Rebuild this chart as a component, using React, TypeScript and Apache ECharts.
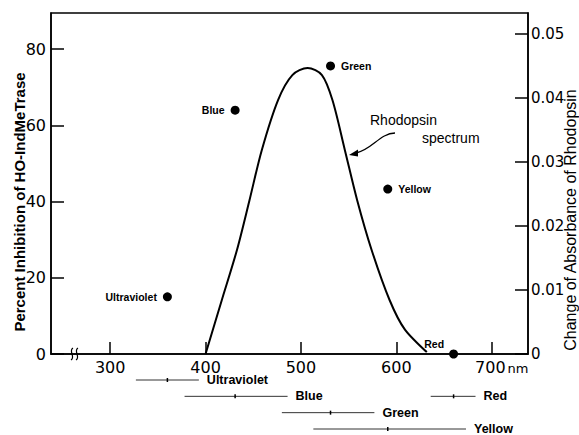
import React, { useEffect, useRef } from "react";
import * as echarts from "echarts";

// ---- data ----
const xTicks = [300, 400, 500, 600, 700];
const leftTicks = [0, 20, 40, 60, 80];
const rightTicks = [0, 0.01, 0.02, 0.03, 0.04, 0.05];

const spectrumNm = [400, 417, 433, 446, 459, 476, 491, 507, 522, 533, 546, 559, 574, 593, 609, 632];
const spectrumAbs = [0, 0.0084, 0.0163, 0.024, 0.0319, 0.0397, 0.0436, 0.0447, 0.0436, 0.0397, 0.0319, 0.024, 0.0163, 0.0084, 0.0038, 0.0003];

const lightNames = ["Ultraviolet", "Blue", "Green", "Yellow", "Red"];
const lightNm = [360, 431, 531, 591, 660];
const inhibition = [15, 64, 75.6, 43.3, 0];

const bandNames = ["Ultraviolet", "Blue", "Red", "Green", "Yellow"];
const bandStart = [327, 378, 636, 480, 513];
const bandEnd = [393, 486, 683, 577, 673];
const bandCenter = [360, 431, 660, 531, 591];
const bandRow = [0, 1, 1, 2, 3];

// ---- styles ----
const labelPos: Record<string, any> = {
  Ultraviolet: { position: "left", distance: 6 },
  Blue: { position: "left", distance: 6 },
  Green: { position: "right", distance: 6 },
  Yellow: { position: "right", distance: 6 },
  Red: { position: "left", distance: 5, offset: [0, -10] },
};
const tickFont = "DejaVu Sans";
const textFont = "Liberation Sans";

export default function App() {
  const ref = useRef<HTMLDivElement>(null);
  useEffect(() => {
    if (!ref.current) return;
    const chart = echarts.init(ref.current, undefined, { renderer: "svg" });
    const xMin = 238, xMax = 738;
    const option: any = {
      animation: false,
      backgroundColor: "#fff",
      grid: [
        { left: 51, right: 51, top: 13, bottom: 81, show: true, borderColor: "#000", borderWidth: 1.5 },
        { left: 51, right: 51, top: 380, height: 49 },
      ],
      xAxis: [
        {
          type: "value", gridIndex: 0, min: xMin, max: xMax,
          axisLine: { show: true, lineStyle: { color: "#000", width: 1.5 } },
          axisTick: { show: true, inside: true, length: 12, customValues: xTicks, lineStyle: { color: "#000", width: 1.5 } },
          axisLabel: {
            customValues: xTicks, margin: 5, color: "#000", fontFamily: tickFont, fontSize: 16,
            formatter: (v: number) => (v === 700 ? "{p|}{a|700}{b|nm}" : String(v)),
            rich: {
              p: { width: 20 },
              a: { fontFamily: tickFont, fontSize: 16, color: "#000" },
              b: { fontFamily: tickFont, fontSize: 13, color: "#000", padding: [3, 0, 0, 2] },
            },
          },
          splitLine: { show: false },
        },
        { type: "value", gridIndex: 1, min: xMin, max: xMax, show: false },
      ],
      yAxis: [
        {
          type: "value", gridIndex: 0, min: 0, max: 89.5, position: "left",
          axisLine: { show: true, lineStyle: { color: "#000", width: 1.5 } },
          axisTick: { show: true, inside: true, length: 13, customValues: leftTicks, lineStyle: { color: "#000", width: 1.5 } },
          axisLabel: { customValues: leftTicks, margin: 5, color: "#000", fontFamily: tickFont, fontSize: 16 },
          splitLine: { show: false },
        },
        {
          type: "value", gridIndex: 0, min: 0, max: 0.0533, position: "right",
          axisLine: { show: true, lineStyle: { color: "#000", width: 1.5 } },
          axisTick: { show: true, inside: true, length: 13, customValues: rightTicks, lineStyle: { color: "#000", width: 1.5 } },
          axisLabel: {
            customValues: rightTicks, margin: 3, color: "#000", fontFamily: tickFont, fontSize: 15,
            formatter: (v: number) => (v === 0 ? "0" : v.toFixed(2)),
          },
          splitLine: { show: false },
        },
        { type: "value", gridIndex: 1, min: 0, max: 3, inverse: true, show: false },
      ],
      series: [
        {
          type: "line", xAxisIndex: 0, yAxisIndex: 1,
          data: spectrumNm.map((x, i) => [x, spectrumAbs[i]]),
          smooth: 0.3, showSymbol: false,
          lineStyle: { color: "#000", width: 2 },
        },
        {
          type: "scatter", xAxisIndex: 0, yAxisIndex: 0, symbolSize: 9,
          itemStyle: { color: "#000", opacity: 1 },
          data: lightNames.map((n, i) => ({
            name: n, value: [lightNm[i], inhibition[i]],
            label: { show: true, formatter: n, color: "#000", fontFamily: textFont, fontWeight: "bold", fontSize: 10.5, ...labelPos[n] },
          })),
          clip: false,
          z: 5,
        },
        {
          type: "custom", xAxisIndex: 1, yAxisIndex: 2, clip: false,
          encode: { x: [0, 1, 2], y: 3 },
          data: bandStart.map((s, i) => [s, bandEnd[i], bandCenter[i], bandRow[i]]),
          renderItem: (params: any, api: any) => {
            const s = api.coord([api.value(0), api.value(3)]);
            const e = api.coord([api.value(1), api.value(3)]);
            const c = api.coord([api.value(2), api.value(3)]);
            const name = bandNames[params.dataIndex];
            return {
              type: "group",
              children: [
                { type: "line", shape: { x1: s[0], y1: s[1], x2: e[0], y2: e[1] }, style: { stroke: "#333", lineWidth: 1 } },
                { type: "line", shape: { x1: c[0], y1: c[1] - 2, x2: c[0], y2: c[1] + 2 }, style: { stroke: "#000", lineWidth: 1.5 } },
                {
                  type: "text", x: e[0] + 8, y: e[1],
                  style: { text: name, fill: "#000", font: `bold 12.5px "${textFont}"`, align: "left", verticalAlign: "middle" },
                },
              ],
            };
          },
        },
      ],
      graphic: [
        {
          type: "text", x: 19, y: 202, rotation: Math.PI / 2,
          style: { text: "Percent Inhibition of HO-IndMeTrase", font: `bold 15px "${textFont}"`, fill: "#000", align: "center", verticalAlign: "middle" },
        },
        {
          type: "text", x: 570, y: 220, rotation: Math.PI / 2,
          style: { text: "Change of Absorbance of Rhodopsin", font: `16px "${textFont}"`, fill: "#000", align: "center", verticalAlign: "middle" },
        },
        {
          type: "text", x: 370, y: 120,
          style: { text: "Rhodopsin", font: `14px "${textFont}"`, fill: "#000", align: "left", verticalAlign: "middle" },
        },
        {
          type: "text", x: 422, y: 138,
          style: { text: "spectrum", font: `14px "${textFont}"`, fill: "#000", align: "left", verticalAlign: "middle" },
        },
        {
          type: "bezierCurve",
          shape: { x1: 395, y1: 133, cpx1: 380, cpy1: 133, cpx2: 372, cpy2: 150, x2: 356, y2: 153 },
          style: { stroke: "#000", lineWidth: 1.3, fill: "none" },
        },
        {
          type: "polygon",
          shape: { points: [[349, 155], [358, 149.5], [358, 156.5]] },
          style: { fill: "#000" },
        },
        {
          type: "bezierCurve",
          shape: { x1: 71, y1: 360, cpx1: 76, cpy1: 357, cpx2: 68, cpy2: 351, x2: 73, y2: 348 },
          style: { stroke: "#000", lineWidth: 1.2, fill: "none" },
        },
        {
          type: "bezierCurve",
          shape: { x1: 76, y1: 360, cpx1: 81, cpy1: 357, cpx2: 73, cpy2: 351, x2: 78, y2: 348 },
          style: { stroke: "#000", lineWidth: 1.2, fill: "none" },
        },
      ],
    };
    chart.setOption(option);
    return () => chart.dispose();
  }, []);
  return <div ref={ref} style={{ position: "fixed", left: 0, top: 0, width: 579, height: 435 }} />;
}
